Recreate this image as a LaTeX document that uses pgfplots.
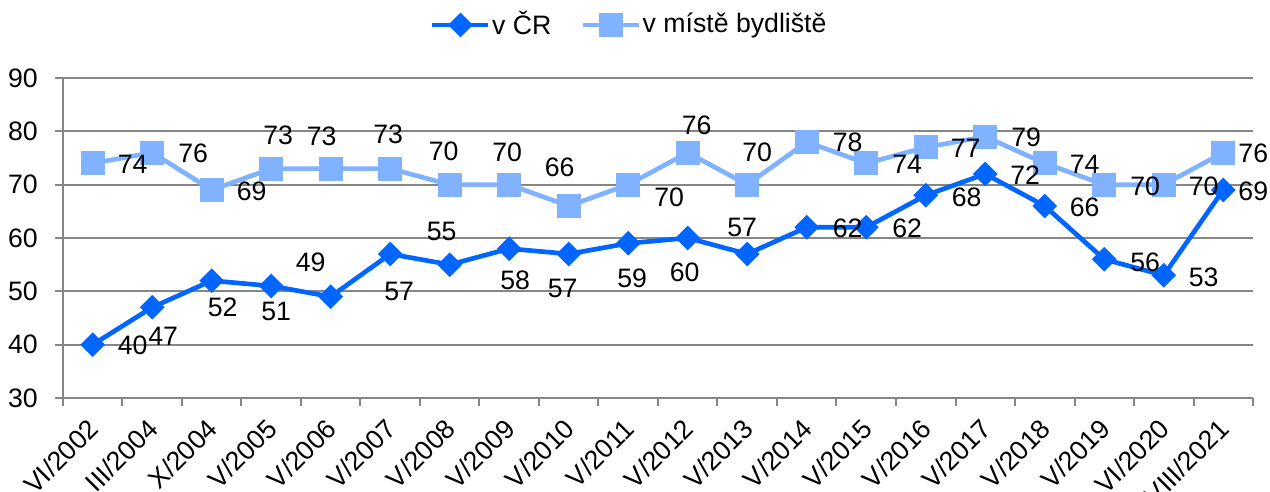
\documentclass[border=0pt]{standalone}
\usepackage{fontspec}
\setmainfont{Liberation Sans}
\usepackage{pgfplots}
\pgfplotsset{compat=1.18}
\usepackage{pgfplotstable}
\definecolor{cdark}{RGB}{0,102,255}
\definecolor{clight}{RGB}{128,178,255}
\definecolor{cgrid}{RGB}{134,134,134}

% dx, dy: label offset in px (dy positive = downwards)
\pgfplotstableread{
x y dx dy
0 40 40 1
1 47 11 29
2 52 11 27
3 51 5 25
4 49 -20 -34
5 57 9 37
6 55 -8 -33
7 58 6 32
8 57 -6 34
9 59 4 35
10 60 -3 34
11 57 -5 -27
12 62 41 1
13 62 41 1
14 68 41 2
15 72 40 1
16 66 40 1
17 56 41 3
18 53 40 2
19 69 30 1
}\tabCR

\pgfplotstableread{
x y dx dy
0 74 40 1
1 76 41 1
2 69 40 1
3 73 7 -33
4 73 -9 -32
5 73 -2 -34
6 70 -6 -33
7 70 -2 -32
8 66 -9 -39
9 70 41 13
10 76 9 -27
11 70 10 -32
12 78 41 0
13 74 41 1
14 77 40 1
15 79 41 1
16 74 40 1
17 70 41 2
18 70 40 2
19 76 30 1
}\tabMisto

\begin{document}
\fontsize{20}{23}\selectfont
\begin{tikzpicture}
\begin{axis}[
  scale only axis,
  width=892.5pt, height=240pt,
  xmin=-0.5, xmax=19.5, ymin=30, ymax=90,
  ytick={30,40,...,90},
  xtick={0,...,19},
  xticklabels={VI/2002,III/2004,X/2004,V/2005,V/2006,V/2007,V/2008,V/2009,V/2010,V/2011,V/2012,V/2013,V/2014,V/2015,V/2016,V/2017,V/2018,V/2019,VI/2020,VIII/2021},
  minor xtick={-0.5,0.5,...,19.5},
  axis lines*=left,
  axis line style={cgrid, line width=1.5pt},
  ymajorgrids,
  grid style={cgrid, line width=1.5pt},
  tick align=outside,
  major tick length=6pt, minor tick length=6pt,
  major x tick style={draw=none},
  minor x tick style={cgrid, line width=1.5pt},
  major y tick style={cgrid, line width=1.5pt},
  /pgf/number format/assume math mode=true,
  tick label style={font=\fontsize{20}{23}\selectfont, text=black},
  x tick label style={xshift=-4.5pt, rotate=45, anchor=north east, inner sep=0pt},
  xticklabel shift=8pt,
  y tick label style={xshift=-6pt},
  clip=false,
  legend style={at={(axis description cs:0.4756,1.1656)}, anchor=center,
    draw=none, fill=none, legend columns=-1,
    font=\fontsize{20}{23}\selectfont,
    nodes={inner sep=1pt}},
  legend image code/.code={
    \draw[mark repeat=2,mark phase=2,#1] plot coordinates {(0pt,0pt) (21pt,0pt) (42pt,0pt)};
  },
]
\addplot[cdark, line width=3.5pt, mark=square*, mark size=4.8pt,
  mark options={rotate=45, solid, fill=cdark}] table[x=x, y=y] {\tabCR};
\addlegendentry{v ČR\hspace*{21pt}}
\addplot[clight, line width=3.5pt, mark=square*, mark size=7.2pt,
  mark options={solid, fill=clight}] table[x=x, y=y] {\tabMisto};
\addlegendentry{v místě bydliště}
% data labels drawn last, on top of all lines and marks
\pgfplotsset{
  every node near coord/.append style={anchor=center,
    xshift={(\dx)*0.75pt}, yshift={-(\dy)*0.75pt},
    font=\fontsize{20}{23}\selectfont, text=black, inner sep=0pt}}
\addplot[draw=none, mark=none, forget plot, nodes near coords,
  visualization depends on={\thisrow{dx} \as \dx},
  visualization depends on={\thisrow{dy} \as \dy}] table[x=x, y=y] {\tabCR};
\addplot[draw=none, mark=none, forget plot, nodes near coords,
  visualization depends on={\thisrow{dx} \as \dx},
  visualization depends on={\thisrow{dy} \as \dy}] table[x=x, y=y] {\tabMisto};
\coordinate (bbsw) at (rel axis cs:-0.05294,-0.29375);
\coordinate (bbne) at (rel axis cs:1.01429,1.24375);
\end{axis}
\pgfresetboundingbox
\useasboundingbox (bbsw) rectangle (bbne);
\end{tikzpicture}
\end{document}
